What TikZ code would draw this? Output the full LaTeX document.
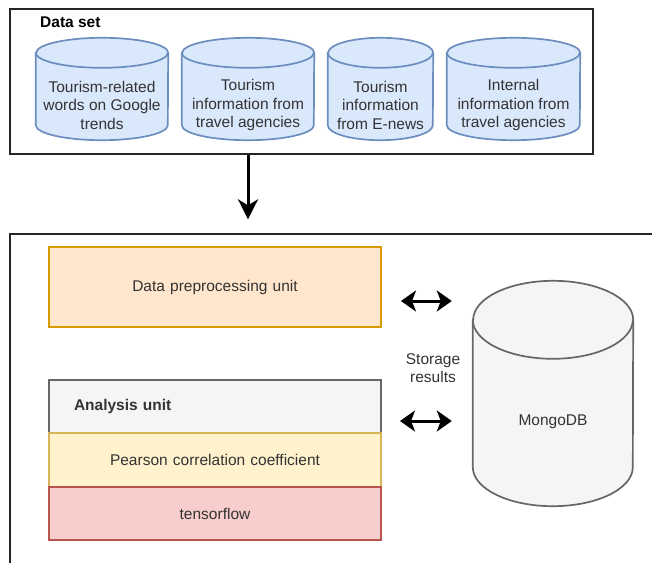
\documentclass[tikz,border=0pt]{standalone}
\usepackage{fontspec}
\setmainfont{Liberation Sans}
\usepackage{xcolor}
\usepackage{tikz}
\usetikzlibrary{shapes.geometric, arrows.meta, positioning, backgrounds}
\definecolor{srcfill}{HTML}{DAE8FC}
\definecolor{srcline}{HTML}{6C8EBF}
\definecolor{prefill}{HTML}{FFE6CC}
\definecolor{preline}{HTML}{D79B00}
\definecolor{greyfill}{HTML}{F5F5F5}
\definecolor{greyline}{HTML}{666666}
\definecolor{pearfill}{HTML}{FFF2CC}
\definecolor{pearline}{HTML}{D6B656}
\definecolor{tensfill}{HTML}{F8CECC}
\definecolor{tensline}{HTML}{B85450}
\definecolor{txtgrey}{HTML}{333333}
\tikzstyle{frame} = [
    rectangle,
    draw=black!85,
    line width=1.5pt,
    inner sep=0pt
]
\tikzstyle{source} = [
    rectangle,
    minimum width=132pt,
    minimum height=102pt,
    inner sep=0pt
]
\tikzstyle{srclabel} = [
    align=center,
    text=txtgrey,
    inner sep=0pt
]
\tikzstyle{drum} = [
    line width=1.7pt
]
\tikzstyle{unit} = [
    rectangle,
    minimum width=332pt,
    text width=300pt,
    inner xsep=16pt,
    align=center,
    text=txtgrey,
    line width=1.4pt,
    outer sep=0pt
]
\tikzstyle{arrow} = [
    line width=3pt,
    -{Stealth[length=20pt, width=20pt, inset=6pt]}
]
\tikzstyle{both} = [
    line width=3pt,
    {Stealth[length=15pt, width=21pt, inset=4pt]}-{Stealth[length=15pt, width=21pt, inset=4pt]}
]

\begin{document}
\begin{tikzpicture}[x=1pt, y=-1pt, font=\fontsize{15.5}{18.5}\selectfont]
        \clip (0,0) rectangle (652,562);

        % Data set
        \node[frame, minimum width=583pt, minimum height=145pt] (dataset) at (301.5,81.5) {};
        \node[font=\fontsize{15.5}{18.5}\selectfont\bfseries, inner sep=0pt, anchor=west] (settitle) at (40,22) {Data set};

        % Sources
        \node[source, label={[srclabel, yshift=-16pt]center:Tourism-related\\words on Google\\trends}] (google) at (102,89) {};
        \node[source, label={[srclabel, yshift=-16pt]center:Tourism\\information from\\travel agencies}] (agencies) at (248,89) {};
        \node[source, minimum width=105pt, label={[srclabel, yshift=-16pt]center:Tourism\\information\\from E-news}] (enews) at (380.5,89) {};
        \node[source, minimum width=133pt, label={[srclabel, yshift=-16pt]center:Internal\\information from\\travel agencies}] (internal) at (513.5,89) {};

        % System
        \node[frame, line width=1.3pt, minimum width=660pt, minimum height=346pt] (system) at (340,407) {};
        \draw[arrow] (dataset.south -| agencies.center) -- ([yshift=14pt]system.north -| agencies.center);

        % Units
        \node[unit, draw=preline, fill=prefill, minimum height=80pt] (preproc) at (215,287) {Data preprocessing unit};
        \node[unit, draw=greyline, fill=greyfill, minimum height=53pt, text width=282pt, inner xsep=25pt, align=left, font=\fontsize{15.5}{18.5}\selectfont\bfseries] (analysis) at (215,406.5) {Analysis unit};
        \node[unit, draw=pearline, fill=pearfill, minimum height=54pt, below=0pt of analysis] (pearson) {Pearson correlation coefficient};
        \node[unit, draw=tensline, fill=tensfill, minimum height=53pt, below=0pt of pearson] (tensor) {tensorflow};

        % Database
        \node[source, minimum width=160pt, minimum height=225pt, label={[srclabel, yshift=-28pt]center:MongoDB}] (mongo) at (553,393.5) {};
        \node[srclabel] (storage) at (433,368) {Storage\\results};

        % Cylinder bodies
        \begin{scope}[on background layer]
            \foreach \n/\w/\r/\f/\d in {google/66/15/srcfill/srcline, agencies/66/15/srcfill/srcline, enews/52.5/15/srcfill/srcline, internal/66.5/15/srcfill/srcline, mongo/80/39/greyfill/greyline} {
                \filldraw[drum, fill=\f, draw=\d] ([yshift=-\r pt]\n.north west) -- ([yshift=\r pt]\n.south west)
                    arc[start angle=180, end angle=360, x radius=\w pt, y radius=\r pt]
                    -- ([yshift=-\r pt]\n.north east)
                    arc[start angle=0, end angle=180, x radius=\w pt, y radius=\r pt] -- cycle;
                \draw[drum, draw=\d] ([yshift=-\r pt]\n.north west) arc[start angle=180, end angle=360, x radius=\w pt, y radius=\r pt];
            }
        \end{scope}

        % Storage arrows
        \draw[both] ([shift={(20,14)}]preproc.east) -- ([shift={(-21,14)}]preproc.east -| mongo.west);
        \draw[both] ([shift={(19,14.5)}]analysis.east) -- ([shift={(-21,14.5)}]analysis.east -| mongo.west);
    \end{tikzpicture}
\end{document}
